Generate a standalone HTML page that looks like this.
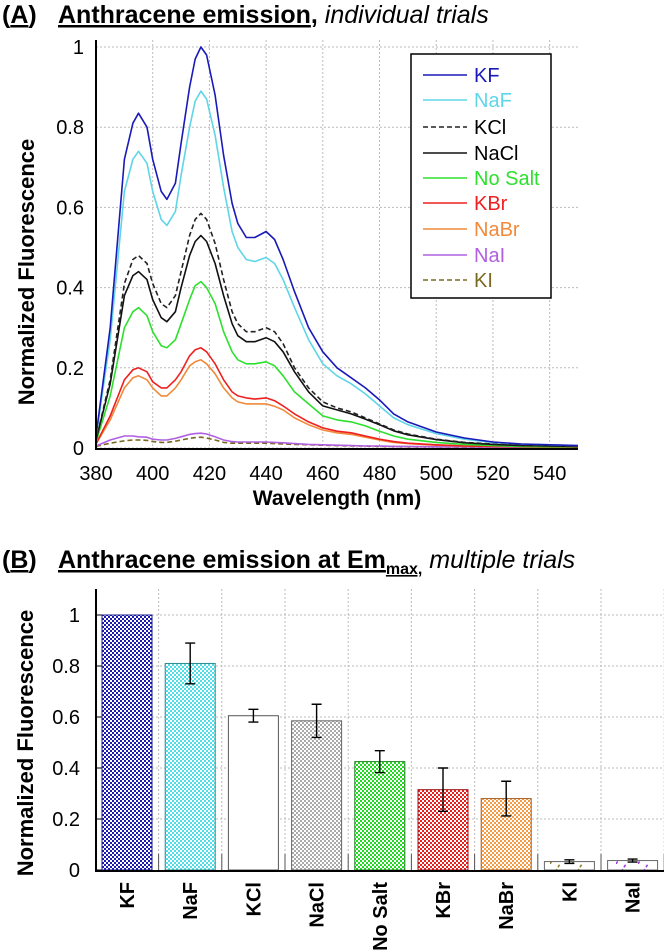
<!DOCTYPE html>
<html><head><meta charset="utf-8"><style>
html,body{margin:0;padding:0;background:#fff;}
svg{display:block;font-family:"Liberation Sans",Arial,sans-serif;}
</style></head><body>
<svg id="fig" width="664" height="952" viewBox="0 0 664 952">
<defs>
<pattern id="pKF" width="4" height="4" patternUnits="userSpaceOnUse"><rect width="4" height="4" fill="#fff"/><rect width="2" height="2" fill="#1a1ab0"/><rect x="2" y="2" width="2" height="2" fill="#1a1ab0"/></pattern>
<pattern id="pNaF" width="4" height="4" patternUnits="userSpaceOnUse"><rect width="4" height="4" fill="#fff"/><rect width="2" height="2" fill="#4fdde6"/><rect x="2" y="2" width="2" height="2" fill="#4fdde6"/></pattern>
<pattern id="pNaCl" width="4" height="4" patternUnits="userSpaceOnUse"><rect width="4" height="4" fill="#fff"/><rect width="2" height="2" fill="#aaa"/><rect x="2" y="2" width="2" height="2" fill="#aaa"/></pattern>
<pattern id="pNo" width="4" height="4" patternUnits="userSpaceOnUse"><rect width="4" height="4" fill="#fff"/><rect width="2" height="2" fill="#22d822"/><rect x="2" y="2" width="2" height="2" fill="#22d822"/></pattern>
<pattern id="pKBr" width="4" height="4" patternUnits="userSpaceOnUse"><rect width="4" height="4" fill="#fff"/><rect width="2" height="2" fill="#e82020"/><rect x="2" y="2" width="2" height="2" fill="#e82020"/></pattern>
<pattern id="pNaBr" width="4" height="4" patternUnits="userSpaceOnUse"><rect width="4" height="4" fill="#fff"/><rect width="2" height="2" fill="#f59a45"/><rect x="2" y="2" width="2" height="2" fill="#f59a45"/></pattern>
<pattern id="pKI" width="22" height="16" patternUnits="userSpaceOnUse"><line x1="0" y1="16" x2="10" y2="0" stroke="#8a7a20" stroke-width="1.5" stroke-dasharray="3,2"/></pattern>
<pattern id="pNaI" width="22" height="16" patternUnits="userSpaceOnUse"><line x1="0" y1="16" x2="10" y2="0" stroke="#9b30e0" stroke-width="1.5" stroke-dasharray="3,2"/></pattern>
</defs>

<text x="2" y="23" font-size="25" font-weight="bold">(<tspan text-decoration="underline">A</tspan>)</text>
<text x="58" y="23" font-size="25" font-weight="bold"><tspan text-decoration="underline">Anthracene emission</tspan>,<tspan font-weight="normal" font-style="italic"> individual trials</tspan></text>
<g id="topChart"></g>
<text transform="translate(34,272) rotate(-90)" text-anchor="middle" font-size="22" font-weight="bold">Normalized Fluorescence</text>
<text x="337" y="505" text-anchor="middle" font-size="21" font-weight="bold">Wavelength (nm)</text>

<text x="2" y="568" font-size="25" font-weight="bold">(<tspan text-decoration="underline">B</tspan>)</text>
<text x="58" y="568" font-size="25" font-weight="bold"><tspan text-decoration="underline">Anthracene emission at Em<tspan font-size="16" dy="6">max,</tspan></tspan><tspan dy="-6" font-weight="normal" font-style="italic"> multiple trials</tspan></text>
<g id="botChart"></g>
<text transform="translate(33,743) rotate(-90)" text-anchor="middle" font-size="22" font-weight="bold">Normalized Fluorescence</text>
</svg>
<script>
const wavelengths=[380,385,390,393,395,398,400,403,405,408,410,413,415,417,419,422,425,428,430,433,436,440,443,446,450,455,460,465,470,475,480,485,490,500,510,520,530,540,550];
const sKF=[0.03,0.3,0.72,0.81,0.835,0.8,0.72,0.64,0.62,0.66,0.76,0.9,0.97,1.0,0.98,0.88,0.73,0.61,0.56,0.525,0.525,0.54,0.52,0.47,0.39,0.3,0.24,0.2,0.175,0.15,0.12,0.085,0.065,0.04,0.025,0.015,0.01,0.008,0.006];
const sNaF=[0.027,0.27,0.64,0.72,0.74,0.71,0.64,0.57,0.555,0.59,0.68,0.8,0.865,0.89,0.87,0.78,0.65,0.54,0.5,0.47,0.465,0.475,0.46,0.42,0.35,0.27,0.21,0.18,0.16,0.135,0.105,0.075,0.058,0.036,0.022,0.014,0.01,0.008,0.006];
const sKCl=[0.02,0.17,0.41,0.47,0.48,0.46,0.41,0.36,0.35,0.38,0.44,0.53,0.57,0.585,0.57,0.51,0.42,0.34,0.31,0.29,0.29,0.3,0.29,0.26,0.2,0.15,0.115,0.1,0.09,0.075,0.06,0.045,0.035,0.022,0.014,0.01,0.007,0.005,0.004];
const sNaCl=[0.02,0.16,0.38,0.43,0.44,0.42,0.37,0.325,0.315,0.34,0.4,0.48,0.515,0.53,0.515,0.46,0.38,0.31,0.28,0.265,0.265,0.275,0.265,0.24,0.19,0.14,0.105,0.095,0.085,0.072,0.058,0.043,0.033,0.021,0.013,0.009,0.006,0.005,0.004];
const sNoSalt=[0.015,0.13,0.3,0.34,0.35,0.33,0.29,0.255,0.25,0.27,0.31,0.37,0.405,0.415,0.4,0.36,0.29,0.24,0.22,0.21,0.21,0.215,0.205,0.18,0.14,0.11,0.08,0.07,0.065,0.055,0.042,0.03,0.022,0.014,0.009,0.006,0.004,0.003,0.003];
const sKBr=[0.01,0.08,0.17,0.195,0.2,0.19,0.165,0.15,0.15,0.17,0.19,0.23,0.245,0.25,0.24,0.21,0.17,0.14,0.13,0.125,0.122,0.125,0.118,0.105,0.085,0.065,0.05,0.042,0.038,0.03,0.022,0.016,0.012,0.008,0.005,0.004,0.003,0.002,0.002];
const sNaBr=[0.01,0.07,0.15,0.175,0.18,0.17,0.15,0.13,0.13,0.15,0.17,0.205,0.215,0.22,0.21,0.185,0.15,0.125,0.115,0.11,0.11,0.11,0.104,0.095,0.075,0.058,0.045,0.038,0.034,0.027,0.02,0.014,0.011,0.007,0.005,0.004,0.003,0.002,0.002];
const sNaI=[0.005,0.02,0.03,0.03,0.028,0.027,0.022,0.02,0.02,0.024,0.028,0.034,0.036,0.037,0.035,0.028,0.02,0.016,0.015,0.015,0.015,0.015,0.014,0.013,0.011,0.009,0.008,0.007,0.006,0.005,0.005,0.004,0.004,0.003,0.003,0.002,0.002,0.002,0.002];
const sKI=[0.004,0.012,0.018,0.02,0.02,0.019,0.016,0.014,0.014,0.017,0.02,0.024,0.026,0.027,0.025,0.02,0.014,0.012,0.012,0.012,0.012,0.012,0.011,0.01,0.009,0.008,0.007,0.006,0.005,0.005,0.004,0.004,0.003,0.003,0.002,0.002,0.002,0.002,0.002];
const seriesNames=["KF","NaF","KCl","NaCl","No Salt","KBr","NaBr","NaI","KI"];
const xTicksA=[380,400,420,440,460,480,500,520,540];
const yTicks=[0,0.2,0.4,0.6,0.8,1];
const yTickLabels=["0","0.2","0.4","0.6","0.8","1"];
const barCats=["KF","NaF","KCl","NaCl","No Salt","KBr","NaBr","KI","NaI"];
const barVals=[1,0.81,0.605,0.585,0.425,0.315,0.28,0.033,0.037];
const barErr=[0,0.08,0.025,0.065,0.043,0.085,0.068,0.007,0.006];

const NS="http://www.w3.org/2000/svg";
function mk(p,t,a){const e=document.createElementNS(NS,t);for(const k in a)e.setAttribute(k,a[k]);p.appendChild(e);return e;}
// ---- chart A
const topG=document.getElementById('topChart');
const xA=w=>96+(w-380)*(578-96)/170;
const yA=v=>448-v*401;
yTicks.forEach((t,i)=>{
  const g=mk(topG,'line',{x1:96,x2:578,y1:yA(t),y2:yA(t),stroke:'#bbb','stroke-dasharray':'2,2'});
  
  
  const l=mk(topG,'text',{x:84,y:yA(t)+7,'text-anchor':'end','font-size':20});
  l.textContent=yTickLabels[i];
  
  
});
xTicksA.forEach(w=>{
  const g=mk(topG,'line',{x1:xA(w),x2:xA(w),y1:40,y2:448,stroke:'#bbb','stroke-dasharray':'2,2'});
  
  
  const l=mk(topG,'text',{x:xA(w),y:480,'text-anchor':'middle','font-size':20});
  l.textContent=w;
  
  
});
const styles=[["#1a1ab8",""],["#5fd5e8",""],["#222","5,3"],["#111",""],["#2ee02e",""],["#ee2020",""],["#f08a3a",""],["#b060e0",""],["#7a6a20","5,3"]];
const allS=[sKF,sNaF,sKCl,sNaCl,sNoSalt,sKBr,sNaBr,sNaI,sKI];
for(let s=allS.length-1;s>=0;s--){
  const d=allS[s].map((v,i)=>(i?'L':'M')+xA(wavelengths[i]).toFixed(1)+','+yA(v).toFixed(1)).join('');
  const p=mk(topG,'path',{d:d,fill:'none',stroke:styles[s][0],'stroke-width':1.6,'stroke-dasharray':styles[s][1],'stroke-linejoin':'round'});
  
  
}
const ax=mk(topG,'path',{d:'M96,40V449H578',fill:'none',stroke:'#000','stroke-width':2});


const lg=mk(topG,'g',{});


mk(lg,'rect',{x:411,y:54,width:140,height:244,fill:'#fff',stroke:'#000','stroke-width':1.5});
const legY=[75,100,127,153,178,203,229,255,280];
const legOrder=[0,1,2,3,4,5,6,7,8];
legOrder.forEach((s,i)=>{
  const ent=mk(lg,'g',{});
  
  
  mk(ent,'line',{x1:423,x2:467,y1:legY[i],y2:legY[i],stroke:styles[s][0],'stroke-width':1.6,'stroke-dasharray':styles[s][1]});
  const t=mk(ent,'text',{x:474,y:legY[i]+7,'font-size':20,fill:styles[s][0]==='#111'||styles[s][0]==='#222'?'#000':styles[s][0]});
  t.textContent=seriesNames[s];
});
// ---- chart B
const botG=document.getElementById('botChart');
const y0=870,yPer=255;
const yB=v=>y0-v*yPer;
const step=63.2;
const cx=i=>127+i*step;
yTicks.forEach((t,i)=>{
  if(t>0){const g=mk(botG,'line',{x1:96,x2:664,y1:yB(t),y2:yB(t),stroke:'#bbb','stroke-dasharray':'2,2'});
  
  }
  mk(botG,'line',{x1:96,x2:104,y1:yB(t),y2:yB(t),stroke:'#000'});
  const l=mk(botG,'text',{x:80,y:yB(t)+7,'text-anchor':'end','font-size':20});
  l.textContent=yTickLabels[i];
  
  
});
for(let i=0;i<barCats.length;i++){
  const gx=cx(i)+step/2;
  const g=mk(botG,'line',{x1:gx,x2:gx,y1:589,y2:y0,stroke:'#bbb','stroke-dasharray':'2,2'});
  
  
  mk(botG,'line',{x1:gx,x2:gx,y1:y0-16,y2:y0,stroke:'#555'});
}
const fills=['url(#pKF)','url(#pNaF)','#fff','url(#pNaCl)','url(#pNo)','url(#pKBr)','url(#pNaBr)','url(#pKI)','url(#pNaI)'];
const edges=['#1a1a90','#2a8a90','#555','#666','#1a801a','#a01010','#a05a20','#666','#666'];
barCats.forEach((c,i)=>{
  const b=mk(botG,'rect',{x:cx(i)-25,y:yB(barVals[i]),width:50,height:barVals[i]*yPer,fill:fills[i],stroke:edges[i],'stroke-width':1});
  
  
  if(barErr[i]>0){
    const e=mk(botG,'path',{d:`M${cx(i)-5},${yB(barVals[i]+barErr[i])}h10M${cx(i)},${yB(barVals[i]+barErr[i])}V${yB(barVals[i]-barErr[i])}M${cx(i)-5},${yB(barVals[i]-barErr[i])}h10`,stroke:'#000','stroke-width':1.4,fill:'none'});
    
    
  }
  const t=mk(botG,'text',{transform:`translate(${cx(i)+7},882) rotate(-90)`,'text-anchor':'end','font-size':20,'font-weight':'bold'});
  t.textContent=c;
  
  
});
const axb=mk(botG,'path',{d:`M96,589V${y0+1}H664`,fill:'none',stroke:'#000','stroke-width':2});


</script>
</body></html>
